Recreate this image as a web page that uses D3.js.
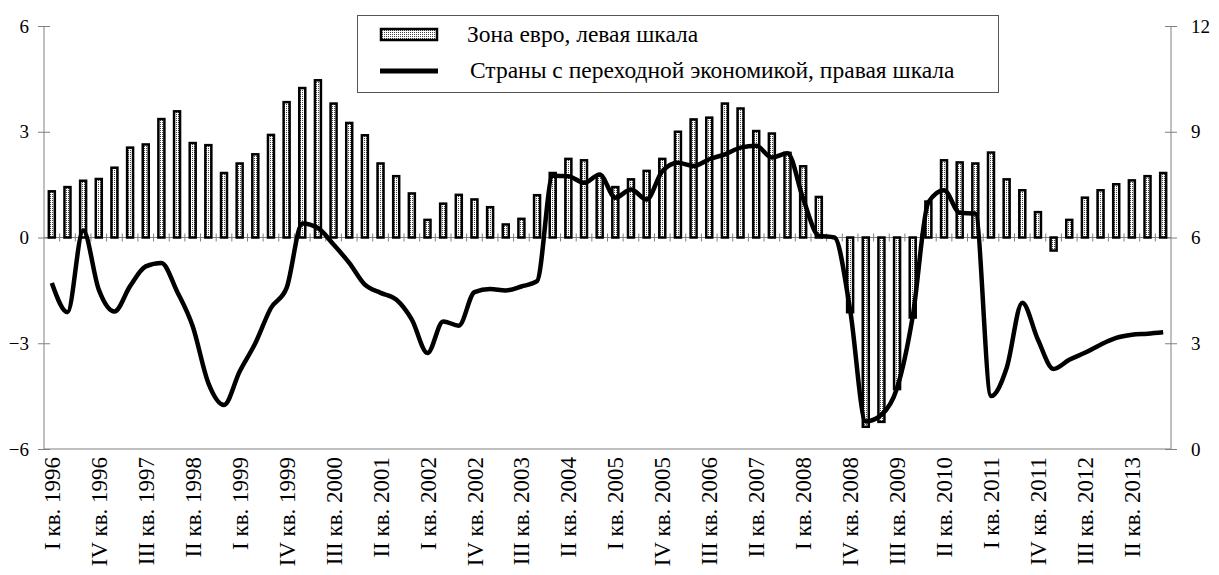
<!DOCTYPE html>
<html>
<head>
<meta charset="utf-8">
<script src="https://cdn.jsdelivr.net/npm/d3@7"></script>
<style>
  body { margin: 0; background: #fff; }
  svg { display: block; }
  text { font-family: "Liberation Serif", "Times New Roman", serif; fill: #000; }
</style>
</head>
<body>
<svg id="chart" width="1219" height="575"></svg>
<script>
// quarters I кв. 1996 ... IV кв. 2013
var years = d3.range(1996, 2014);
var romans = ["I", "II", "III", "IV"];
var quarters = years.flatMap(function (y) {
  return romans.map(function (q) { return q + " кв. " + y; });
});

// euro area, left scale
var euroArea = [
  1.31, 1.43, 1.61, 1.66, 1.98, 2.55, 2.64, 3.36, 3.58, 2.68, 2.62, 1.83,
  2.10, 2.36, 2.91, 3.84, 4.24, 4.46, 3.80, 3.25, 2.90, 2.10, 1.74, 1.25,
  0.50, 0.96, 1.21, 1.08, 0.86, 0.37, 0.53, 1.20, 1.83, 2.23, 2.19, 1.75,
  1.43, 1.65, 1.89, 2.23, 3.00, 3.35, 3.40, 3.80, 3.66, 3.02, 2.95, 2.40,
  2.02, 1.15, 0.00, -2.12, -5.37, -5.23, -4.30, -2.27, 1.02, 2.19, 2.13, 2.10,
  2.41, 1.65, 1.34, 0.72, -0.37, 0.50, 1.13, 1.34, 1.51, 1.62, 1.74, 1.83
];

// transition economies, right scale
var transitionEc = [
  4.71, 3.88, 6.20, 4.52, 3.90, 4.62, 5.18, 5.28, 4.47, 3.48, 1.87, 1.25,
  2.20, 3.00, 4.00, 4.57, 6.40, 6.27, 5.80, 5.28, 4.66, 4.43, 4.24, 3.67,
  2.72, 3.62, 3.50, 4.45, 4.54, 4.50, 4.61, 4.76, 7.75, 7.74, 7.55, 7.79,
  7.13, 7.36, 7.08, 7.88, 8.12, 8.03, 8.22, 8.36, 8.55, 8.60, 8.27, 8.39,
  7.10, 6.05, 6.00, 3.95, 0.78, 0.97, 1.73, 3.76, 7.00, 7.34, 6.70, 6.68,
  1.50, 2.30, 4.15, 3.10, 2.27, 2.53, 2.73, 2.96, 3.15, 3.24, 3.27, 3.31
];

var leftTicks = [-6, -3, 0, 3, 6];
var rightTicks = [0, 3, 6, 9, 12];
var tickLabels = quarters.filter(function (d, i) { return i % 3 === 0; });

var legendNames = ["Зона евро, левая шкала", "Страны с переходной экономикой, правая шкала"];

var svg = d3.select("#chart");

var plotLeft = 44, plotRight = 1171, plotTop = 26, plotBottom = 449;

var x = d3.scaleBand().domain(quarters).range([plotLeft, plotRight]).paddingInner(0).paddingOuter(0);
var yL = d3.scaleLinear().domain([-6, 6]).range([plotBottom, plotTop]);
var yR = d3.scaleLinear().domain([0, 12]).range([plotBottom, plotTop]);

var axisColor = "#808080";

// pattern for bars
var defs = svg.append("defs");
var pat = defs.append("pattern")
  .attr("id", "dots")
  .attr("patternUnits", "userSpaceOnUse")
  .attr("width", 2)
  .attr("height", 2);
pat.append("rect").attr("width", 2).attr("height", 2).attr("fill", "#fff");
pat.append("rect").attr("width", 1).attr("height", 1).attr("fill", "#444");

// left axis
svg.append("g")
  .attr("transform", "translate(" + plotLeft + ",0)")
  .call(d3.axisLeft(yL).tickValues(leftTicks).tickSize(6).tickPadding(9).tickFormat(d3.format("d")))
  .call(function (g) {
    g.select(".domain").attr("stroke", axisColor).attr("d", "M0," + plotTop + "V" + plotBottom);
    g.selectAll(".tick line").attr("stroke", axisColor).attr("x1", 6).attr("x2", -6);
    g.selectAll(".tick text").attr("font-size", 19).attr("font-family", "Liberation Serif");
  });

// right axis
svg.append("g")
  .attr("transform", "translate(" + plotRight + ",0)")
  .call(d3.axisRight(yR).tickValues(rightTicks).tickSize(6).tickPadding(14).tickFormat(d3.format("d")))
  .call(function (g) {
    g.select(".domain").attr("stroke", axisColor).attr("d", "M0," + plotTop + "V" + plotBottom);
    g.selectAll(".tick line").attr("stroke", axisColor).attr("x1", -6).attr("x2", 6);
    g.selectAll(".tick text").attr("font-size", 19).attr("font-family", "Liberation Serif");
  });

// bottom border
svg.append("line")
  .attr("x1", plotLeft).attr("x2", plotRight)
  .attr("y1", plotBottom).attr("y2", plotBottom)
  .attr("stroke", axisColor);

// zero line with category ticks
var zero = yL(0);
svg.append("line")
  .attr("x1", plotLeft).attr("x2", plotRight)
  .attr("y1", zero).attr("y2", zero)
  .attr("stroke", axisColor);
svg.append("g")
  .selectAll("line")
  .data(quarters.slice(1))
  .join("line")
  .attr("x1", function (d) { return x(d); })
  .attr("x2", function (d) { return x(d); })
  .attr("y1", zero - 4)
  .attr("y2", zero + 4)
  .attr("stroke", axisColor);

// category labels
svg.append("g")
  .selectAll("text")
  .data(tickLabels)
  .join("text")
  .attr("transform", function (d) {
    return "translate(" + (x(d) + x.bandwidth() / 2) + "," + (plotBottom + 8) + ") rotate(-90)";
  })
  .attr("dy", "0.35em")
  .attr("text-anchor", "end")
  .attr("font-size", 23)
  .text(function (d) { return d; });

// bars
var barW = 6;
svg.append("g")
  .selectAll("rect")
  .data(euroArea)
  .join("rect")
  .attr("x", function (d, i) { return x(quarters[i]) + x.bandwidth() / 2 - barW / 2; })
  .attr("y", function (d) { return yL(Math.max(d, 0)); })
  .attr("width", barW)
  .attr("height", function (d) { return Math.abs(yL(d) - yL(0)); })
  .attr("fill", "url(#dots)")
  .attr("stroke", "#000")
  .attr("stroke-width", 2.5);

// line
var line = d3.line()
  .x(function (d, i) { return x(quarters[i]) + x.bandwidth() / 2; })
  .y(function (d) { return yR(d); })
  .curve(d3.curveMonotoneX);

svg.append("path")
  .datum(transitionEc)
  .attr("d", line)
  .attr("fill", "none")
  .attr("stroke", "#000")
  .attr("stroke-width", 4.5)
  .attr("stroke-linejoin", "round");

// legend
var lg = svg.append("g");
lg.append("rect")
  .attr("x", 357.5).attr("y", 15.5)
  .attr("width", 641).attr("height", 77)
  .attr("fill", "#fff")
  .attr("stroke", "#555");
lg.append("rect")
  .attr("x", 381).attr("y", 29)
  .attr("width", 56).attr("height", 11)
  .attr("fill", "url(#dots)")
  .attr("stroke", "#000")
  .attr("stroke-width", 2.5);
lg.append("line")
  .attr("x1", 380).attr("x2", 438)
  .attr("y1", 71).attr("y2", 71)
  .attr("stroke", "#000")
  .attr("stroke-width", 5);
lg.append("text")
  .attr("x", 467).attr("y", 42)
  .attr("font-size", 23.5)
  .text(legendNames[0]);
lg.append("text")
  .attr("x", 470).attr("y", 78)
  .attr("font-size", 23.5)
  .text(legendNames[1]);
</script>
</body>
</html>
